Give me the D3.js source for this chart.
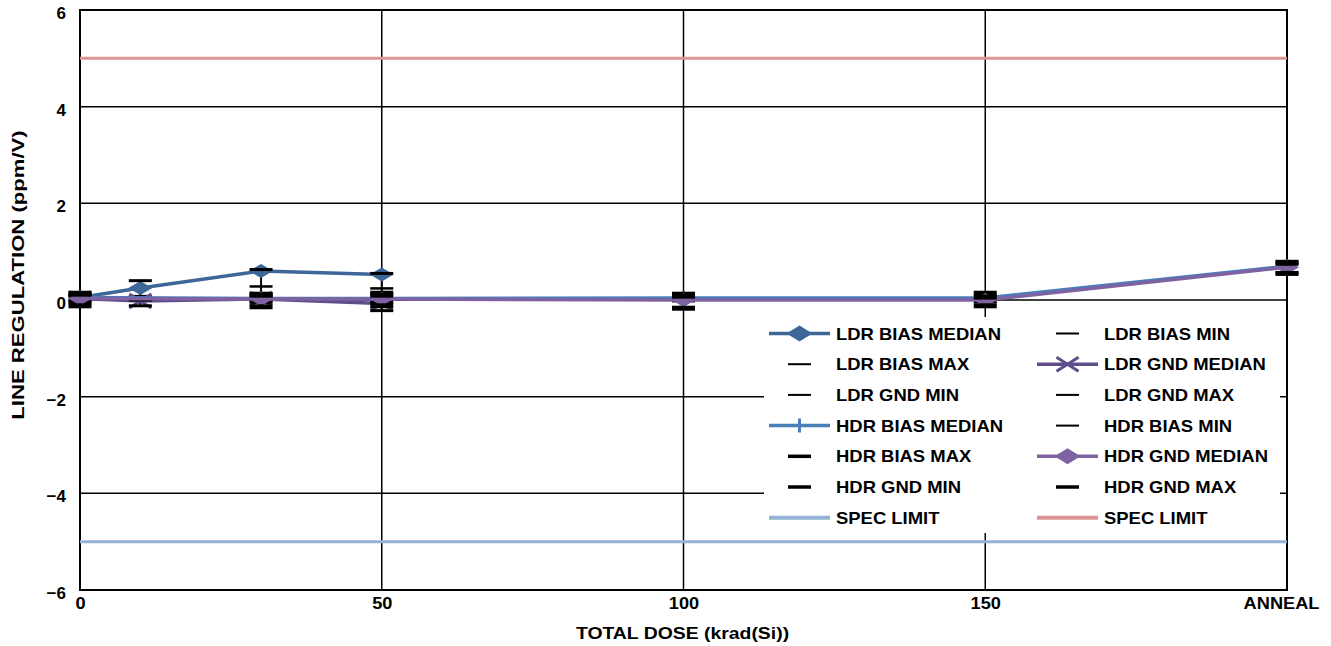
<!DOCTYPE html>
<html><head><meta charset="utf-8">
<script src="https://cdn.jsdelivr.net/npm/d3@7"></script>
<style>body{margin:0;background:#fff}svg{display:block;font-family:"Liberation Sans",Arial,sans-serif;font-weight:bold}</style>
</head><body><svg id="c" width="1331" height="646"></svg>
<script>
// ---- data ----
const xTickValues = [0, 50, 100, 150, 200];
const xTickLabels = ["0", "50", "100", "150", "ANNEAL"];
const yTickValues = [-6, -4, -2, 0, 2, 4, 6];

const ldrDose = [0, 10, 30, 50];
const hdrDose = [0, 30, 50, 100, 150, 200];

const ldrBiasMedian = [0.05, 0.25, 0.60, 0.53];
const ldrBiasMin    = [0.00, 0.08, 0.28, 0.24];
const ldrBiasMax    = [0.10, 0.40, 0.63, 0.55];
const ldrGndMedian  = [0.03, -0.02, 0.02, -0.07];
const ldrGndMin     = [-0.02, -0.12, -0.05, -0.22];
const ldrGndMax     = [0.08, 0.00, 0.08, 0.00];
const hdrBiasMedian = [0.05, 0.03, 0.03, 0.04, 0.04, 0.70];
const hdrBiasMin    = [-0.05, -0.02, -0.05, -0.02, -0.04, 0.56];
const hdrBiasMax    = [0.14, 0.12, 0.14, 0.12, 0.14, 0.78];
const hdrGndMedian  = [0.03, 0.02, 0.02, 0.00, 0.00, 0.68];
const hdrGndMin     = [-0.12, -0.14, -0.12, -0.17, -0.12, 0.55];
const hdrGndMax     = [0.12, 0.10, 0.10, 0.08, 0.06, 0.76];
const specLow = -5, specHigh = 5;

// ---- layout ----
const svg = d3.select("#c");
const L = 80, R = 1287, T = 10, B = 590;
const x = d3.scaleLinear().domain([0, 200]).range([L, R]);
const y = d3.scaleLinear().domain([-6, 6]).range([B, T]);

// horizontally widen text (reference glyphs are wider than Arial)
function widen(sel, f) {
  sel.each(function () {
    const len = this.getComputedTextLength();
    d3.select(this).attr("textLength", len * f).attr("lengthAdjust", "spacingAndGlyphs");
  });
}

// gridlines
const g = svg.append("g");
g.selectAll(".hg").data(yTickValues.filter(v => v > -6 && v < 6)).join("line")
  .attr("x1", L).attr("x2", R).attr("y1", d => y(d)).attr("y2", d => y(d))
  .attr("stroke", "#000").attr("stroke-width", 1.5);
g.selectAll(".vg").data(xTickValues.filter(v => v > 0 && v < 200)).join("line")
  .attr("y1", T).attr("y2", B).attr("x1", d => x(d)).attr("x2", d => x(d))
  .attr("stroke", "#000").attr("stroke-width", 1.5);
g.append("rect").attr("x", L).attr("y", T).attr("width", R - L).attr("height", B - T)
  .attr("fill", "none").attr("stroke", "#000").attr("stroke-width", 2);

// axes (tick labels via d3 axes)
const yAxis = svg.append("g").attr("transform", `translate(${L},0)`)
  .call(d3.axisLeft(y).tickValues(yTickValues).tickSize(0).tickPadding(14).tickFormat(d3.format("d")));
yAxis.select(".domain").remove();
yAxis.selectAll("text").attr("font-size", 17).attr("font-weight", "bold").attr("font-family", "Liberation Sans, Arial").attr("dy", "0.5em").attr("fill", "#000");
const xAxis = svg.append("g").attr("transform", `translate(0,${B})`)
  .call(d3.axisBottom(x).tickValues(xTickValues).tickSize(0).tickPadding(7).tickFormat((d, i) => xTickLabels[i]));
xAxis.select(".domain").remove();
xAxis.selectAll("text").attr("font-size", 17).attr("font-weight", "bold").attr("font-family", "Liberation Sans, Arial").attr("fill", "#000")
  .attr("dx", (d, i) => i === xTickValues.length - 1 ? -6 : 0);
widen(xAxis.selectAll("text"), 1.07);

const xTitle = svg.append("text").attr("x", x(100) - 1).attr("y", 639).attr("text-anchor", "middle")
  .attr("font-size", 17).text("TOTAL DOSE (krad(Si))");
widen(xTitle, 1.14);
const yTitle = svg.append("text").attr("transform", `translate(24,${y(0) - 25}) rotate(-90)`).attr("text-anchor", "middle")
  .attr("font-size", 17).text("LINE REGULATION (ppm/V)");
widen(yTitle, 1.3);

// spec limits
const specColors = {low: "#95B3D7", high: "#D99694"};
svg.append("line").attr("x1", L).attr("x2", R).attr("y1", y(specLow)).attr("y2", y(specLow))
  .attr("stroke", specColors.low).attr("stroke-width", 3);
svg.append("line").attr("x1", L).attr("x2", R).attr("y1", y(specHigh)).attr("y2", y(specHigh))
  .attr("stroke", specColors.high).attr("stroke-width", 3);

// vertical range lines (min..max spread)
const pick = (pairs, dose, agg) => {
  const v = [];
  pairs.forEach(([ds, vs]) => { const i = ds.indexOf(dose); if (i >= 0) v.push(vs[i]); });
  return agg(v);
};
const minPairs = [[ldrDose, ldrBiasMin], [ldrDose, ldrGndMin], [hdrDose, hdrBiasMin], [hdrDose, hdrGndMin]];
const maxPairs = [[ldrDose, ldrBiasMax], [ldrDose, ldrGndMax], [hdrDose, hdrBiasMax], [hdrDose, hdrGndMax]];
svg.selectAll(".vr").data(ldrDose).join("line")
  .attr("x1", d => x(d)).attr("x2", d => x(d))
  .attr("y1", d => y(pick(maxPairs, d, d3.max))).attr("y2", d => y(pick(minPairs, d, d3.min)))
  .attr("stroke", "#000").attr("stroke-width", 2);

// series definitions (in drawing / legend order)
const series = [
  {name: "LDR BIAS MEDIAN", xs: ldrDose, ys: ldrBiasMedian, color: "#3C6798", line: true, marker: "diamond"},
  {name: "LDR BIAS MIN", xs: ldrDose, ys: ldrBiasMin, color: "#000", marker: "dash", t: 2.5},
  {name: "LDR BIAS MAX", xs: ldrDose, ys: ldrBiasMax, color: "#000", marker: "dash", t: 3},
  {name: "LDR GND MEDIAN", xs: ldrDose, ys: ldrGndMedian, color: "#5F4C8A", line: true, marker: "x"},
  {name: "LDR GND MIN", xs: ldrDose, ys: ldrGndMin, color: "#000", marker: "dash", t: 3},
  {name: "LDR GND MAX", xs: ldrDose, ys: ldrGndMax, color: "#000", marker: "dash", t: 3},
  {name: "HDR BIAS MEDIAN", xs: hdrDose, ys: hdrBiasMedian, color: "#4A7EBB", line: true, marker: "plus"},
  {name: "HDR BIAS MIN", xs: hdrDose, ys: hdrBiasMin, color: "#000", marker: "dash", t: 3},
  {name: "HDR BIAS MAX", xs: hdrDose, ys: hdrBiasMax, color: "#000", marker: "dash", t: 5},
  {name: "HDR GND MEDIAN", xs: hdrDose, ys: hdrGndMedian, color: "#7E62A1", line: true, marker: "diamond"},
  {name: "HDR GND MIN", xs: hdrDose, ys: hdrGndMin, color: "#000", marker: "dash", t: 5},
  {name: "HDR GND MAX", xs: hdrDose, ys: hdrGndMax, color: "#000", marker: "dash", t: 5}
];

function drawMarker(sel, type, cx, cy, color, t, legend) {
  if (type === "diamond") {
    const w = legend ? 13 : 12, h = legend ? 8 : 7;
    sel.append("path").attr("d", `M${cx - w},${cy}L${cx},${cy - h}L${cx + w},${cy}L${cx},${cy + h}Z`).attr("fill", color);
  } else if (type === "x") {
    const w = 11, h = 7;
    sel.append("path").attr("d", `M${cx - w},${cy - h}L${cx + w},${cy + h}M${cx - w},${cy + h}L${cx + w},${cy - h}`)
      .attr("stroke", color).attr("stroke-width", 3).attr("fill", "none");
  } else if (type === "plus") {
    sel.append("path").attr("d", `M${cx},${cy - 7}L${cx},${cy + 7}M${cx - 7},${cy}L${cx + 7},${cy}`)
      .attr("stroke", color).attr("stroke-width", 3).attr("fill", "none");
  } else if (type === "dash") {
    const w = 11.5;
    const tt = legend ? Math.max(2, t - 1.5) : t;
    sel.append("rect").attr("x", cx - w).attr("y", cy - tt / 2).attr("width", 2 * w).attr("height", tt).attr("fill", color);
  }
}

const lineGen = d3.line().x(d => x(d[0])).y(d => y(d[1]));
series.forEach(s => {
  const pts = s.xs.map((d, i) => [d, s.ys[i]]);
  const sg = svg.append("g");
  if (s.line) sg.append("path").attr("d", lineGen(pts)).attr("fill", "none").attr("stroke", s.color).attr("stroke-width", 3.5);
  pts.forEach(p => drawMarker(sg, s.marker, x(p[0]), y(p[1]), s.color, s.t, false));
});

// legend
const legendItems = series.map(s => ({name: s.name, color: s.color, line: s.line, marker: s.marker, t: s.t}))
  .concat([{name: "SPEC LIMIT", color: specColors.low, line: true, marker: null},
           {name: "SPEC LIMIT", color: specColors.high, line: true, marker: null}]);
const lg = svg.append("g");
lg.append("rect").attr("x", 764).attr("y", 317).attr("width", 516).attr("height", 216).attr("fill", "#fff");
legendItems.forEach((it, i) => {
  const col = i % 2, row = Math.floor(i / 2);
  const x0 = col === 0 ? 769 : 1037;
  const cy = 333.5 + row * 30.7;
  if (it.line) lg.append("line").attr("x1", x0).attr("x2", x0 + 61).attr("y1", cy).attr("y2", cy)
    .attr("stroke", it.color).attr("stroke-width", it.marker ? 3.5 : 4);
  if (it.marker) drawMarker(lg, it.marker, x0 + 30.5, cy, it.color, it.t, true);
  const tx = lg.append("text").attr("x", x0 + 67).attr("y", cy).attr("dy", "0.36em").attr("font-size", 17).text(it.name);
  widen(tx, 1.085);
});
</script></body></html>
